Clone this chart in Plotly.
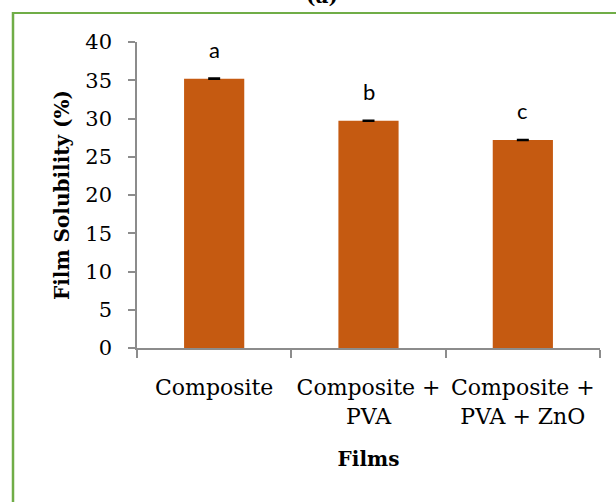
import plotly.graph_objects as go

# Film solubility by film formulation
films = ["Composite", "Composite +<br>PVA", "Composite +<br>PVA + ZnO"]
solubility = [35.2, 29.7, 27.2]
std_err = [0.08, 0.07, 0.06]
letters = ["a", "b", "c"]
y_ticks = [0, 5, 10, 15, 20, 25, 30, 35, 40]

BAR_COLOR = "#C55A11"
AXIS_COLOR = "#8C8C8C"
BORDER_GREEN = "#70AD47"
SERIF = "DejaVu Serif"

W, H = 616, 502
ML, MR, MT, MB = 137, 16, 42, 154

fig = go.Figure()
fig.add_trace(go.Bar(
    x=films,
    y=solubility,
    marker=dict(color=BAR_COLOR, line=dict(width=0)),
    error_y=dict(type="data", array=std_err, visible=True,
                 color="black", thickness=1.5, width=6),
    showlegend=False,
))

# significance letters above each bar
for f, v, s, lab in zip(films, solubility, std_err, letters):
    fig.add_annotation(x=f, y=v + s, text=lab, showarrow=False,
                       xref="x", yref="y", yanchor="bottom", yshift=13,
                       font=dict(family="Lato", size=22, color="black"))

# panel label, sitting above the frame
fig.add_annotation(x=(322 - ML) / (W - ML - MR), y=1 + (MT - 10) / (H - MT - MB),
                   xref="paper", yref="paper", text="<b>(a)</b>",
                   showarrow=False, yanchor="bottom", xanchor="center",
                   font=dict(family=SERIF, size=20, color="black"))

# green frame: left and top edges
pw, ph = W - ML - MR, H - MT - MB
def px_x(p):
    return (p - ML) / pw
def px_y(p):
    return 1 - (p - MT) / ph
fig.add_shape(type="line", xref="paper", yref="paper",
              x0=px_x(13), x1=px_x(13), y0=px_y(12), y1=px_y(H + 5),
              line=dict(color=BORDER_GREEN, width=2.5))
fig.add_shape(type="line", xref="paper", yref="paper",
              x0=px_x(12), x1=px_x(W + 5), y0=px_y(13), y1=px_y(13),
              line=dict(color=BORDER_GREEN, width=2))

fig.update_layout(
    width=W, height=H,
    margin=dict(l=ML, r=MR, t=MT, b=MB, autoexpand=False),
    paper_bgcolor="white", plot_bgcolor="white",
    bargap=0.61,
    font=dict(family=SERIF, size=20, color="black"),
    xaxis=dict(
        showline=True, linecolor=AXIS_COLOR, linewidth=1.5,
        ticks="outside", tickson="boundaries", ticklen=8,
        tickcolor=AXIS_COLOR, tickwidth=1.5, tickangle=0,
        showgrid=False, ticklabelstandoff=19, automargin=False,
        tickfont=dict(family=SERIF, size=22),
        title=dict(text="<b>Films</b>", font=dict(family=SERIF, size=20),
                   standoff=24),
    ),
    yaxis=dict(
        range=[0, 40], tickvals=y_ticks, automargin=False,
        showline=True, linecolor=AXIS_COLOR, linewidth=1.5,
        ticks="outside", ticklen=7, tickcolor=AXIS_COLOR, tickwidth=1.5,
        showgrid=False, zeroline=False, ticklabelstandoff=12,
        tickfont=dict(family=SERIF, size=21),
        title=dict(text="<b>Film Solubility (%)</b>",
                   font=dict(family=SERIF, size=20), standoff=10),
    ),
)

fig.write_html("out.html")
